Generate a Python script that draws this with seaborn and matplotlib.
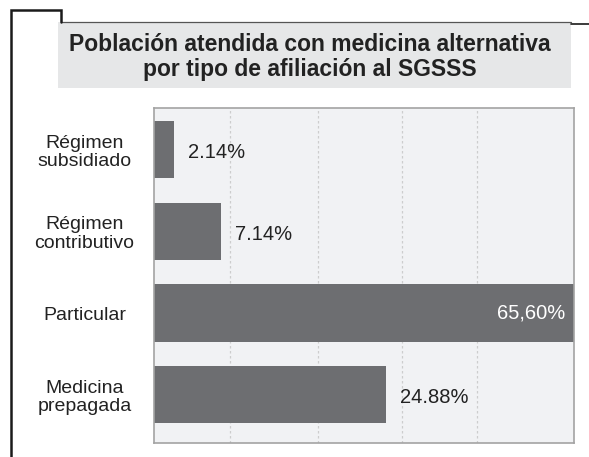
import pandas as pd
import numpy as np
import matplotlib.pyplot as plt
import seaborn as sns
from matplotlib.lines import Line2D
from matplotlib.patches import Rectangle

# data
categorias = ['Régimen\nsubsidiado', 'Régimen\ncontributivo', 'Particular', 'Medicina\nprepagada']
porcentajes = [2.14, 7.14, 65.60, 24.88]
etiquetas = ['2.14%', '7.14%', '65,60%', '24.88%']
titulo = 'Población atendida con medicina alternativa\npor tipo de afiliación al SGSSS'

df = pd.DataFrame({'categoria': categorias, 'porcentaje': porcentajes})

sns.set_style('white')
plt.rcParams['font.family'] = ['Liberation Sans', 'DejaVu Sans']

W, H = 589, 457
fig = plt.figure(figsize=(W / 100, H / 100), dpi=100)

def fx(x):
    return x / W

def fy(y):
    return 1 - y / H

# plot area placed like the reference
ax = fig.add_axes([fx(154), fy(443), fx(574) - fx(154), fy(108) - fy(443)])
ax.set_facecolor('#f1f2f4')

sns.barplot(data=df, x='porcentaje', y='categoria', orient='h', color='#6d6e71',
            saturation=1, width=0.7, linewidth=0, ax=ax, zorder=2)

# the original chart clips the largest bar at the frame edge
ax.set_xlim(0, 45)
ax.set_ylim(3.59, -0.51)
ax.set_xticks([8.15, 17.6, 26.6, 34.6])
ax.set_xticklabels([])
ax.tick_params(axis='x', length=0)
ax.grid(axis='x', color='#cdcdcd', linestyle=(0, (2, 2)), linewidth=0.9, zorder=0)
ax.set_axisbelow(True)
ax.set_xlabel('')
ax.set_ylabel('')

ax.tick_params(axis='y', length=0, pad=50, labelsize=14, labelcolor='#222222')
for lab in ax.get_yticklabels():
    lab.set_ha('center')
    lab.set_multialignment('center')
    lab.set_linespacing(1.1)

for sp in ax.spines.values():
    sp.set_visible(True)
    sp.set_color('#a3a3a3')
    sp.set_linewidth(1.2)

xmax = ax.get_xlim()[1]
for i, (v, t) in enumerate(zip(porcentajes, etiquetas)):
    if v > xmax:
        ax.annotate(t, xy=(xmax, i), xytext=(-6, 0), textcoords='offset points',
                    ha='right', va='center', fontsize=14.5, color='white')
    else:
        ax.annotate(t, xy=(v, i), xytext=(10, -2), textcoords='offset points',
                    ha='left', va='center', fontsize=14.5, color='#222222')

# title box
fig.patches.append(Rectangle((fx(58), fy(88)), fx(571) - fx(58), fy(22) - fy(88),
                             transform=fig.transFigure, facecolor='#e6e7e8',
                             edgecolor='none', zorder=0))
fig.add_artist(Line2D([fx(61), fx(571)], [fy(22), fy(22)], color='#555555', linewidth=0.9))
fig.text(fx(310), fy(57), titulo, ha='center', va='center', fontsize=16.5,
         fontweight='bold', color='#222222', linespacing=1.12)

# black frame lines
fig.add_artist(Line2D([fx(11), fx(11), fx(61), fx(61)], [fy(H), fy(10), fy(10), fy(22)],
                      color='#1a1a1a', linewidth=1.8, solid_joinstyle='miter'))
fig.add_artist(Line2D([fx(571), fx(W)], [fy(24), fy(24)], color='#1a1a1a', linewidth=1.2))

fig.savefig('out.png', dpi=100)
